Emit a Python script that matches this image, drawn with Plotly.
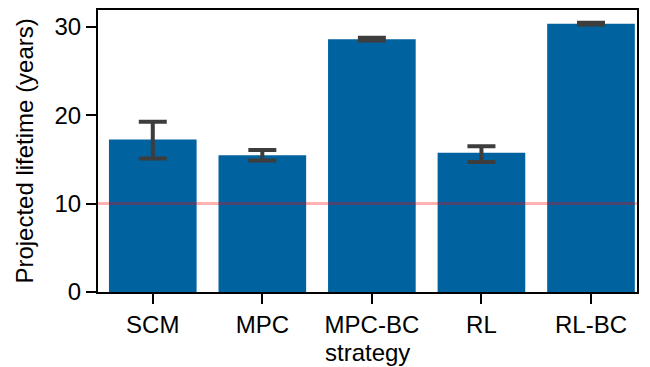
import plotly.graph_objects as go

strategies = ["SCM", "MPC", "MPC-BC", "RL", "RL-BC"]
lifetime = [17.26, 15.48, 28.6, 15.75, 30.35]
ci_upper = [19.27, 16.05, 28.75, 16.5, 30.45]
ci_lower = [15.1, 14.88, 28.45, 14.7, 30.25]
threshold = 10

err_plus = [u - m for u, m in zip(ci_upper, lifetime)]
err_minus = [m - l for l, m in zip(ci_lower, lifetime)]

FONT = "Liberation Sans, Arial, sans-serif"
FS = 24

fig = go.Figure()
fig.add_trace(go.Bar(
    x=list(range(len(strategies))), y=lifetime,
    width=0.8,
    marker=dict(color="#00629f", line=dict(width=0)),
    error_y=dict(type="data", symmetric=False, array=err_plus, arrayminus=err_minus,
                 color="#3d3d3d", thickness=4, width=14),
))
fig.add_shape(type="line", xref="paper", x0=0, x1=1, yref="y", y0=threshold, y1=threshold,
              line=dict(color="rgba(255,0,0,0.3)", width=3), layer="above")

# the page body adds an 8px offset; the figure is sized to fill the rest of the window
fig.update_layout(
    width=642, height=359,
    margin=dict(l=90, r=13, t=2, b=75),
    plot_bgcolor="white", paper_bgcolor="white",
    font=dict(family=FONT, size=FS, color="black"),
    showlegend=False,
    annotations=[
        dict(text="strategy", xref="paper", yref="paper", x=0.5, y=-0.158,
             xanchor="center", yanchor="top", showarrow=False, font=dict(size=FS)),
        dict(text="Projected lifetime (years)", xref="paper", yref="paper", x=-0.138, y=0.5,
             xanchor="center", yanchor="middle", textangle=-90, showarrow=False, font=dict(size=FS)),
    ],
)
fig.update_xaxes(
    range=[-0.5, 4.42], tickmode="array", tickvals=list(range(len(strategies))), ticktext=strategies,
    showline=True, linecolor="black", linewidth=2, mirror=True,
    ticks="outside", ticklen=10, tickwidth=2, tickcolor="black",
    showgrid=False, zeroline=False, automargin=False,
)
fig.update_yaxes(
    range=[0, 31.9], tickvals=[0, 10, 20, 30],
    showline=True, linecolor="black", linewidth=2, mirror=True,
    ticks="outside", ticklen=10, tickwidth=2, tickcolor="black",
    showgrid=False, zeroline=False, automargin=False,
)

fig.write_html("out.html")
